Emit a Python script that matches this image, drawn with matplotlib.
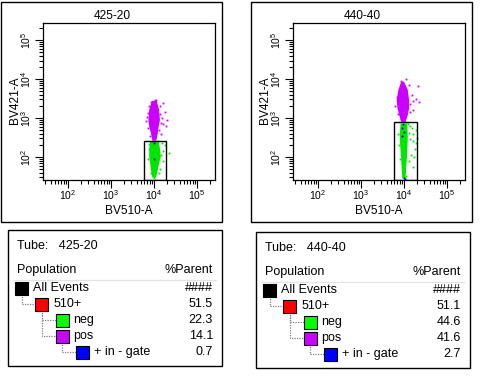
import matplotlib
matplotlib.use("Agg")
import matplotlib.pyplot as plt
import numpy as np
from matplotlib.patches import Rectangle, Polygon
from matplotlib.ticker import LogLocator, NullFormatter

plt.rcParams['font.family'] = ['Liberation Sans', 'DejaVu Sans']
plt.rcParams['mathtext.fontset'] = 'custom'
plt.rcParams['mathtext.rm'] = 'Liberation Sans'
plt.rcParams['mathtext.it'] = 'Liberation Sans:italic'
plt.rcParams['mathtext.bf'] = 'Liberation Sans:bold'

# ---------------- data ----------------
tubes = ["425-20", "440-40"]
x_label = "BV510-A"
y_label = "BV421-A"
gate_label = "+ in - gate"

# axis ranges (log10 units)
x_range = (1.42, 5.42)
y_range = (1.41, 5.44)

# gate rectangles (log10 units): x-left, x-right, y-top
gate1 = (3.77, 4.28, 2.41)
gate2 = (3.77, 4.30, 2.90)

# dense cloud outlines (log10 x, log10 y)
t1_pos_x = [3.97, 3.91, 3.89, 3.91, 3.95, 3.98, 4.04, 4.07, 4.09, 4.12, 4.10, 4.05]
t1_pos_y = [3.42, 3.21, 2.95, 2.78, 2.61, 2.44, 2.44, 2.61, 2.78, 2.95, 3.21, 3.42]
t1_neg_x = [3.93, 3.91, 3.91, 3.93, 3.95, 3.98, 4.03, 4.07, 4.10, 4.14, 4.12, 4.09]
t1_neg_y = [2.39, 2.22, 2.01, 1.84, 1.67, 1.49, 1.49, 1.67, 1.84, 2.01, 2.22, 2.39]
t2_pos_x = [3.95, 3.89, 3.85, 3.87, 3.91, 3.95, 4.02, 4.07, 4.10, 4.10, 4.07, 3.99]
t2_pos_y = [3.91, 3.72, 3.46, 3.25, 3.08, 2.91, 2.91, 3.08, 3.25, 3.46, 3.72, 3.91]
t2_neg_x = [3.94, 3.92, 3.94, 3.96, 3.98, 4.02, 4.04, 4.06, 4.07, 4.06]
t2_neg_y = [2.84, 2.52, 2.18, 1.84, 1.47, 1.47, 1.84, 2.18, 2.52, 2.84]

# sparse events (log10 x, log10 y)
t1_pos_ev_x = [3.84, 3.82, 4.18, 4.22, 4.30, 4.28, 4.15, 4.20, 3.88, 4.12, 3.86, 4.25, 4.05, 3.93, 4.17, 3.90, 4.14, 3.87, 4.02, 4.16]
t1_pos_ev_y = [3.02, 2.92, 3.00, 2.85, 2.95, 2.80, 3.30, 3.38, 3.30, 2.70, 2.75, 3.15, 3.46, 3.42, 2.60, 2.55, 3.10, 3.12, 3.47, 2.88]
t1_neg_ev_x = [4.25, 4.35, 4.18, 4.20, 3.88, 3.86, 4.15, 3.92, 4.22, 4.00, 4.10, 4.16, 3.89, 4.12]
t1_neg_ev_y = [2.30, 2.10, 2.35, 1.90, 2.20, 1.95, 1.70, 1.60, 2.15, 1.45, 2.40, 2.05, 2.33, 1.58]
t1_gate_ev_x = [4.00, 4.01]
t1_gate_ev_y = [2.35, 1.95]
t2_pos_ev_x = [3.80, 3.83, 4.18, 4.22, 4.33, 4.35, 4.28, 4.15, 3.86, 4.12, 3.90, 4.20, 4.13, 3.93, 4.05]
t2_pos_ev_y = [3.30, 3.55, 3.60, 3.45, 3.82, 3.42, 3.50, 3.15, 3.10, 3.85, 3.75, 3.20, 3.35, 3.95, 4.00]
t2_neg_ev_x = [4.15, 4.22, 4.20, 4.28, 4.25, 4.17, 4.30, 4.12, 4.20, 3.86, 3.88, 4.10, 4.27, 4.05, 4.18, 4.13, 4.24, 4.11, 3.90]
t2_neg_ev_y = [2.80, 2.60, 2.40, 2.70, 2.20, 2.05, 2.50, 1.90, 1.75, 2.60, 2.30, 2.85, 2.35, 1.52, 2.75, 2.45, 2.00, 2.62, 1.95]
t2_gate_ev_x = [3.97, 3.96, 3.99, 3.95, 4.00, 4.02]
t2_gate_ev_y = [2.85, 2.75, 2.65, 2.55, 1.45, 1.44]

# hierarchy tables
populations = ["All Events", "510+", "neg", "pos", "+ in - gate"]
pop_colors = ["#000000", "#ff0000", "#00ff00", "#cc00ff", "#0000ff"]
pop_level = [0, 1, 2, 2, 3]
pop_parent = [-1, 0, 1, 1, 3]
pct_parent_1 = [None, 51.5, 22.3, 14.1, 0.7]
pct_parent_2 = [None, 51.1, 44.6, 41.6, 2.7]

MAGENTA = "#cc00ff"
GREEN = "#00e600"
BLUE = "#0000c0"

# ---------------- figure ----------------
W, H = 480, 378
fig = plt.figure(figsize=(W / 100, H / 100), dpi=100)
bg = fig.add_axes([0, 0, 1, 1])
bg.set_xlim(0, W)
bg.set_ylim(H, 0)
bg.axis('off')

FS = 8.6


def panel(ox, tube, gate, pos_poly, neg_poly, pos_ev, neg_ev, gate_ev):
    bg.add_patch(Rectangle((ox + 1, 1.5), 221, 220.5, fill=False, lw=1.0, ec='black'))
    ax_l, ax_r, ax_t, ax_b = ox + 43, ox + 215, 23, 180
    ax = fig.add_axes([ax_l / W, 1 - ax_b / H, (ax_r - ax_l) / W, (ax_b - ax_t) / H])
    ax.set_xscale('log')
    ax.set_yscale('log')
    ax.set_xlim(10 ** x_range[0], 10 ** x_range[1])
    ax.set_ylim(10 ** y_range[0], 10 ** y_range[1])
    for s in ax.spines.values():
        s.set_linewidth(0.9)
    ax.xaxis.set_major_locator(LogLocator(base=10, numticks=10))
    ax.yaxis.set_major_locator(LogLocator(base=10, numticks=10))
    ax.xaxis.set_minor_locator(LogLocator(base=10, subs=np.arange(2, 10), numticks=20))
    ax.yaxis.set_minor_locator(LogLocator(base=10, subs=np.arange(2, 10), numticks=20))
    ax.xaxis.set_minor_formatter(NullFormatter())
    ax.yaxis.set_minor_formatter(NullFormatter())
    ax.tick_params(which='major', direction='out', length=5.5, width=0.8, labelsize=7.5, pad=0.5)
    ax.tick_params(which='minor', direction='out', length=3.2, width=0.8)
    ax.tick_params(axis='y', which='major', pad=1.5)
    for lab in ax.get_yticklabels():
        lab.set_rotation(90)
        lab.set_va('center')
    ax.add_patch(Polygon(np.column_stack([10 ** np.array(pos_poly[0]), 10 ** np.array(pos_poly[1])]),
                         closed=True, fc=MAGENTA, ec=MAGENTA, lw=1.2, zorder=2))
    ax.add_patch(Polygon(np.column_stack([10 ** np.array(neg_poly[0]), 10 ** np.array(neg_poly[1])]),
                         closed=True, fc=GREEN, ec=GREEN, lw=1.2, zorder=2))
    ax.plot(10 ** np.array(pos_ev[0]), 10 ** np.array(pos_ev[1]), 's', ms=1.3, mew=0, color=MAGENTA, zorder=3)
    ax.plot(10 ** np.array(neg_ev[0]), 10 ** np.array(neg_ev[1]), 's', ms=1.3, mew=0, color=GREEN, zorder=3)
    ax.plot(10 ** np.array(gate_ev[0]), 10 ** np.array(gate_ev[1]), 's', ms=1.3, mew=0, color=BLUE, zorder=3)
    gx0, gx1, gyt = gate
    ax.add_patch(Rectangle((10 ** gx0, 10 ** y_range[0]), 10 ** gx1 - 10 ** gx0,
                           10 ** gyt - 10 ** y_range[0], fill=False, ec='black', lw=1.0, zorder=4))
    bg.text(ox + 112, 16, tube, ha='center', va='center', fontsize=FS)
    bg.text(ox + 129, 211, x_label, ha='center', va='center', fontsize=FS)
    bg.text(ox + 15, 100, y_label, ha='center', va='center', rotation=90, fontsize=FS)
    return ax


ax1 = panel(0, tubes[0], gate1, (t1_pos_x, t1_pos_y), (t1_neg_x, t1_neg_y),
            (t1_pos_ev_x, t1_pos_ev_y), (t1_neg_ev_x, t1_neg_ev_y), (t1_gate_ev_x, t1_gate_ev_y))
bg.text(132, 152, gate_label, ha='right', va='center', fontsize=FS)
ax2 = panel(250, tubes[1], gate2, (t2_pos_x, t2_pos_y), (t2_neg_x, t2_neg_y),
            (t2_pos_ev_x, t2_pos_ev_y), (t2_neg_ev_x, t2_neg_ev_y), (t2_gate_ev_x, t2_gate_ev_y))
bg.text(386, 148, gate_label, ha='right', va='center', fontsize=FS)


def table(ox, oy, tube, pcts):
    bg.add_patch(Rectangle((ox + 8, oy + 230), 214, 136, fill=False, lw=1.0, ec='black'))
    bg.text(ox + 17, oy + 246, "Tube:   " + tube, ha='left', va='center', fontsize=9)
    bg.text(ox + 17, oy + 270, "Population", ha='left', va='center', fontsize=9)
    bg.text(ox + 213, oy + 270, "%Parent", ha='right', va='center', fontsize=9)
    bg.plot([ox + 14, ox + 216], [oy + 279.5, oy + 279.5], color='#e4e4e4', lw=0.9)
    row_y = [oy + 288 + 16.1 * i for i in range(len(populations))]
    sq_x = [ox + 15 + 20.3 * lv for lv in pop_level]
    for i, name in enumerate(populations):
        p = pop_parent[i]
        if p >= 0:
            cx = sq_x[p] + 6.5
            bg.plot([cx, cx, sq_x[i]], [row_y[p] + 6, row_y[i], row_y[i]],
                    color='#808080', lw=0.9, ls=(0, (1, 1)), zorder=1)
        bg.add_patch(Rectangle((sq_x[i], row_y[i] - 6), 13, 12.5, fc=pop_colors[i],
                               ec='black', lw=0.8, zorder=2))
        bg.text(sq_x[i] + 18, row_y[i], name, ha='left', va='center', fontsize=9)
        val = "####" if pcts[i] is None else f"{pcts[i]:.1f}"
        bg.text(ox + 213, row_y[i], val, ha='right', va='center', fontsize=9)


table(0, 0, tubes[0], pct_parent_1)
table(248, 2, tubes[1], pct_parent_2)

fig.savefig("out.png", dpi=100)
